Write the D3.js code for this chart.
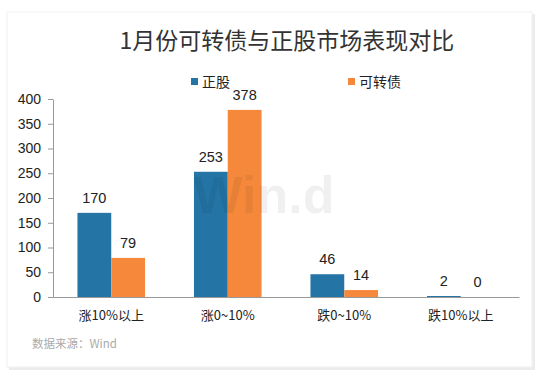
<!DOCTYPE html>
<head>
<meta charset="utf-8">
<style>
body { margin: 0; background: #fff; }
svg text { font-family: "Noto Sans CJK SC", "Liberation Sans", sans-serif; fill: #222; }
svg .axis text { font-family: "Liberation Sans", "Noto Sans CJK SC", sans-serif; font-size: 14px; fill: #222; }
svg .axis path, svg .axis line { stroke: #999; }
</style>
</head>
<body>
<script src="https://d3js.org/d3.v7.min.js"></script>
<script>
  var categories = ["涨10%以上", "涨0~10%", "跌0~10%", "跌10%以上"];
  var seriesNames = ["正股", "可转债"];
  var stockValues = [170, 253, 46, 2];
  var bondValues = [79, 378, 14, 0];
  var yTicks = [0, 50, 100, 150, 200, 250, 300, 350, 400];
  var colors = ["#2474a6", "#f5883a"];

  var W = 550, H = 375;
  var plot = { left: 53, right: 519, top: 99, bottom: 297 };

  var svg = d3.select("body").append("svg")
      .attr("width", W)
      .attr("height", H);

  // card with soft shadow
  svg.append("rect")
      .attr("x", 9).attr("y", 14)
      .attr("width", 526).attr("height", 356)
      .attr("fill", "#ececec");
  svg.append("rect")
      .attr("x", 7).attr("y", 12)
      .attr("width", 525).attr("height", 355)
      .attr("fill", "#fff")
      .attr("stroke", "#f0f0f0");

  var x0 = d3.scaleBand().domain(categories)
      .range([plot.left, plot.right])
      .paddingInner(0.42).paddingOuter(0.21);
  var x1 = d3.scaleBand().domain(seriesNames).range([0, x0.bandwidth()]);
  var y = d3.scaleLinear().domain([0, 400]).range([plot.bottom, plot.top]);

  var rows = categories.map(function (c, i) {
    return { cat: c, vals: [stockValues[i], bondValues[i]] };
  });

  // y axis
  var yAxis = d3.axisLeft(y).tickValues(yTicks).tickSize(5).tickSizeOuter(0).tickPadding(7);
  svg.append("g").attr("class", "axis")
      .attr("transform", "translate(" + plot.left + ",0)")
      .call(yAxis);

  // bars
  var groups = svg.selectAll("g.grp").data(rows).enter().append("g")
      .attr("class", "grp")
      .attr("transform", function (d) { return "translate(" + x0(d.cat) + ",0)"; });

  groups.selectAll("rect").data(function (d) {
      return d.vals.map(function (v, j) { return { name: seriesNames[j], v: v, j: j }; });
    }).enter().append("rect")
      .attr("x", function (d) { return x1(d.name); })
      .attr("y", function (d) { return y(d.v); })
      .attr("width", x1.bandwidth())
      .attr("height", function (d) { return y(0) - y(d.v); })
      .attr("fill", function (d) { return colors[d.j]; });

  groups.selectAll("text").data(function (d) {
      return d.vals.map(function (v, j) { return { name: seriesNames[j], v: v }; });
    }).enter().append("text")
      .attr("x", function (d) { return x1(d.name) + x1.bandwidth() / 2; })
      .attr("y", function (d) { return y(d.v) - 10; })
      .attr("text-anchor", "middle")
      .style("font-family", "Liberation Sans, sans-serif")
      .style("font-size", "14.5px")
      .text(function (d) { return d.v; });

  // x axis
  var xAxis = d3.axisBottom(x0).tickSize(0).tickPadding(14);
  var xg = svg.append("g").attr("class", "axis")
      .attr("transform", "translate(0," + plot.bottom + ")")
      .call(xAxis);
  xg.selectAll("text")
      .style("font-family", "Noto Sans CJK SC, sans-serif")
      .style("font-size", "13px");

  // watermark
  svg.append("text")
      .attr("x", 264).attr("y", 213)
      .attr("text-anchor", "middle")
      .style("font-family", "Liberation Sans, sans-serif")
      .style("font-size", "52px")
      .style("font-weight", "bold")
      .style("fill", "#000")
      .style("fill-opacity", 0.06)
      .text("Win.d");

  // title
  svg.append("text")
      .attr("x", 287).attr("y", 49)
      .attr("text-anchor", "middle")
      .style("font-size", "23px")
      .style("fill", "#333")
      .text("1月份可转债与正股市场表现对比");

  // legend
  var legX = [191, 348];
  seriesNames.forEach(function (n, i) {
    svg.append("rect")
        .attr("x", legX[i]).attr("y", 78)
        .attr("width", 7).attr("height", 7)
        .attr("fill", colors[i]);
    svg.append("text")
        .attr("x", legX[i] + 11).attr("y", 87)
        .style("font-size", "14px")
        .text(n);
  });

  // source
  svg.append("text")
      .attr("x", 32).attr("y", 348)
      .style("font-size", "11.5px")
      .style("fill", "#aaa")
      .text("数据来源：Wind");
</script>
</body>
</html>
